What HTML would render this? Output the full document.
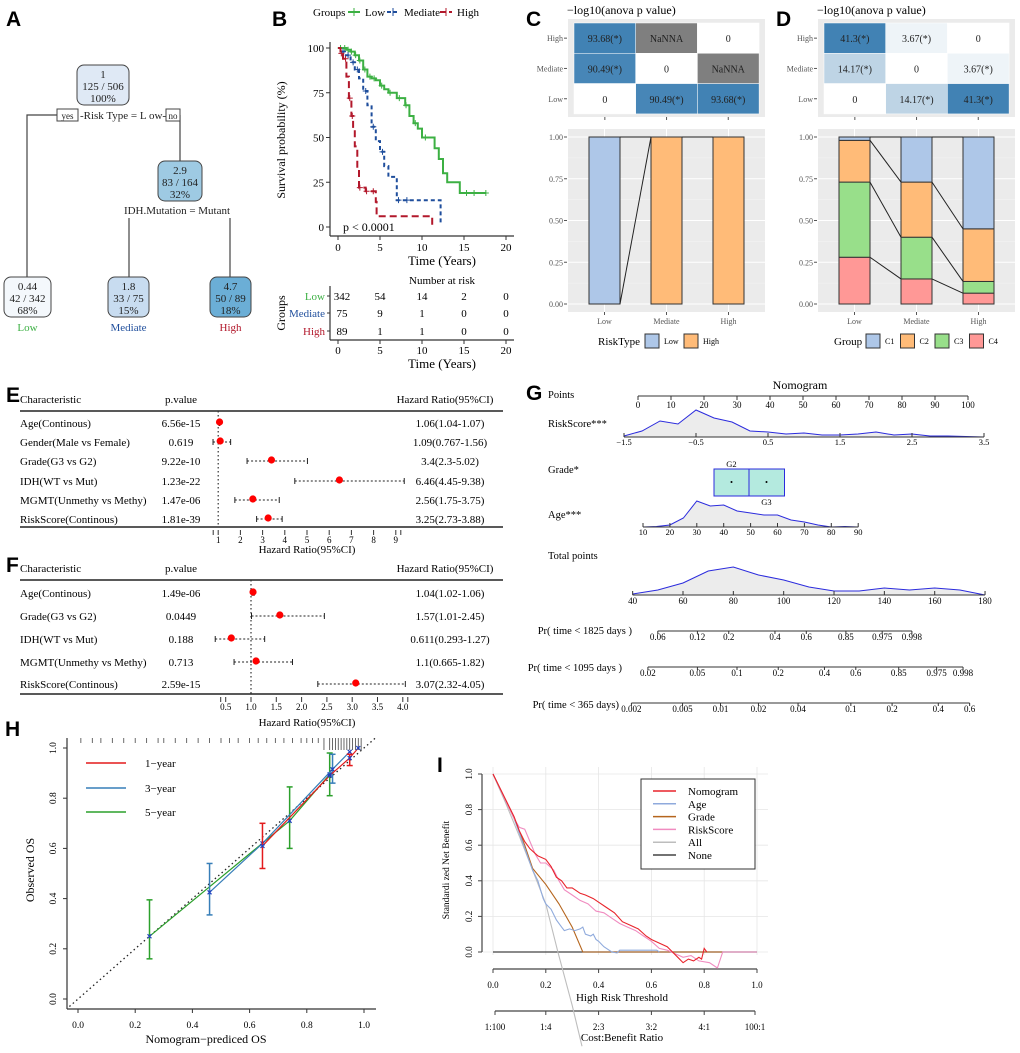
<!DOCTYPE html>
<html><head><meta charset="utf-8"><title>Risk model figure</title>
<style>
html,body{margin:0;padding:0;background:#fff;}
svg{display:block;font-family:"Liberation Serif",serif;}
.pl{font-family:"Liberation Sans",sans-serif;font-weight:bold;font-size:21px;}
</style></head>
<body>
<svg id="fig" width="1020" height="1053" viewBox="0 0 1020 1053" xmlns="http://www.w3.org/2000/svg">
<rect width="1020" height="1053" fill="#fff"/>
<text class="pl" x="6" y="26">A</text>
<text class="pl" x="272" y="26">B</text>
<text class="pl" x="526" y="26">C</text>
<text class="pl" x="776" y="26">D</text>
<text class="pl" x="6" y="402">E</text>
<text class="pl" x="6" y="572">F</text>
<text class="pl" x="526" y="400">G</text>
<text class="pl" x="5" y="736">H</text>
<text class="pl" x="437" y="772">I</text>

<!-- Panel A: decision tree -->
<g id="tree" font-size="11" fill="#222">
 <g stroke="#444" stroke-width="1.2" fill="none">
  <path d="M27 277 V115 H57"/><path d="M180 115 H180 V161"/>
  <path d="M129 277 V218"/><path d="M230 277 V218"/>
 </g>
 <rect x="77" y="65" width="52" height="40" rx="7" fill="#dfe9f5" stroke="#444"/>
 <text x="103" y="78" text-anchor="middle">1</text><text x="103" y="90" text-anchor="middle">125 / 506</text><text x="103" y="102" text-anchor="middle">100%</text>
 <rect x="57" y="109" width="21" height="12" fill="#fff" stroke="#444"/>
 <text x="67.5" y="119" text-anchor="middle" font-size="9">yes</text>
 <text x="123" y="119" text-anchor="middle" font-size="11">-Risk Type = L ow-</text>
 <rect x="166" y="109" width="14" height="12" fill="#fff" stroke="#444"/>
 <text x="173" y="119" text-anchor="middle" font-size="9">no</text>
 <rect x="158" y="161" width="44" height="40" rx="7" fill="#9ecae3" stroke="#444"/>
 <text x="180" y="174" text-anchor="middle">2.9</text><text x="180" y="186" text-anchor="middle">83 / 164</text><text x="180" y="198" text-anchor="middle">32%</text>
 <text x="177" y="214" text-anchor="middle">IDH.Mutation = Mutant</text>
 <rect x="4" y="277" width="47" height="40" rx="7" fill="#f4f8fc" stroke="#444"/>
 <text x="27.5" y="290" text-anchor="middle">0.44</text><text x="27.5" y="302" text-anchor="middle">42 / 342</text><text x="27.5" y="314" text-anchor="middle">68%</text>
 <text x="27.5" y="331" text-anchor="middle" fill="#3cb043">Low</text>
 <rect x="108" y="277" width="41" height="40" rx="7" fill="#c8dcf0" stroke="#444"/>
 <text x="128.5" y="290" text-anchor="middle">1.8</text><text x="128.5" y="302" text-anchor="middle">33 / 75</text><text x="128.5" y="314" text-anchor="middle">15%</text>
 <text x="128.5" y="331" text-anchor="middle" fill="#1f4e9c">Mediate</text>
 <rect x="210" y="277" width="41" height="40" rx="7" fill="#6baed6" stroke="#444"/>
 <text x="230.5" y="290" text-anchor="middle">4.7</text><text x="230.5" y="302" text-anchor="middle">50 / 89</text><text x="230.5" y="314" text-anchor="middle">18%</text>
 <text x="230.5" y="331" text-anchor="middle" fill="#b2182b">High</text>
</g>

<g id="km"></g>
<g id="heatC"></g>
<g id="heatD"></g>
<g id="forestE"></g>
<g id="forestF"></g>
<g id="nomo"></g>
<g id="calib"></g>
<g id="dca"></g>
</svg>
<script>
// ===== Data =====
// KM
const kmTicks=[0,5,10,15,20];
const kmYTicks=[0,25,50,75,100];
const lowT=[0,0.5,1,1.5,2,2.5,3,3.5,4,4.5,5,5.5,6,7,8,8.5,9,9.5,10,11,11.5,12,12.5,13,14,14.5,17.6];
const lowS=[100,100,99,98,96,93,88,84,83,82,79,77,75,72,68,62,58,55,50,50,44,38,30,25,25,19,19];
const medT=[0,0.3,0.8,1.5,2,2.5,3,3.5,4,4.5,5,5.5,6,7,12.2,12.21];
const medS=[100,98,96,92,88,83,76,68,56,48,42,34,28,15,15,2];
const highT=[0,0.3,0.6,1,1.3,1.6,1.8,2,2.3,2.5,3.3,4.3,4.5,4.6,11.2,11.21];
const highS=[100,97,94,84,72,62,55,45,33,22,20,20,14,6,6,1];
const lowCens=[0.3,0.8,1.2,1.6,2.1,2.6,3.2,3.8,4.3,5.2,6.2,7.3,8.1,9.2,10.4,15.3,16.2,17.6];
const medCens=[0.6,1.2,1.8,2.3,3.3,4.2,5.3,7.2,8.2];
const highCens=[0.4,0.9,1.4,1.7,2.6,3.4,4.2];
const riskGroups=["Low","Mediate","High"];
const riskLow=[342,54,14,2,0], riskMed=[75,9,1,0,0], riskHigh=[89,1,1,0,0];
// Heatmaps
const hmRows=["High","Mediate","Low"], hmCols=["Low","Mediate","High"];
const hmC=[[93.68,NaN,0],[90.49,0,NaN],[0,90.49,93.68]];
const hmD=[[41.3,3.67,0],[14.17,0,3.67],[0,14.17,41.3]];
const barTicks=[0,0.25,0.5,0.75,1];
const cHigh=[0,1,1], cLow=[1,0,0];
const dC4=[0.28,0.15,0.065], dC3=[0.45,0.25,0.07], dC2=[0.25,0.33,0.315], dC1=[0.02,0.27,0.55];
// Forest E
const eChar=["Age(Continous)","Gender(Male vs Female)","Grade(G3 vs G2)","IDH(WT vs Mut)","MGMT(Unmethy vs Methy)","RiskScore(Continous)"];
const eP=["6.56e-15","0.619","9.22e-10","1.23e-22","1.47e-06","1.81e-39"];
const eHR=[1.06,1.09,3.4,6.46,2.56,3.25], eLo=[1.04,0.767,2.3,4.45,1.75,2.73], eHi=[1.07,1.56,5.02,9.38,3.75,3.88];
const eTicks=[1,2,3,4,5,6,7,8,9];
// Forest F
const fChar=["Age(Continous)","Grade(G3 vs G2)","IDH(WT vs Mut)","MGMT(Unmethy vs Methy)","RiskScore(Continous)"];
const fP=["1.49e-06","0.0449","0.188","0.713","2.59e-15"];
const fHR=[1.04,1.57,0.611,1.1,3.07], fLo=[1.02,1.01,0.293,0.665,2.32], fHi=[1.06,2.45,1.27,1.82,4.05];
const fTicks=[0.5,1,1.5,2,2.5,3,3.5,4];
// Nomogram
const ptsTicks=[0,10,20,30,40,50,60,70,80,90,100];
const rsTicks=[-1.5,-0.5,0.5,1.5,2.5,3.5];
const rsDensX=[-1.5,-1.25,-1,-0.75,-0.5,-0.25,0,0.25,0.5,0.75,1,1.25,1.5,1.75,2,2.25,2.5,2.75,3,3.25,3.5];
const rsDens=[1,6,16,13,27,19,15,6,5,3,4,2,2,3,5,2,3,1,1,0.5,0];
const ageTicks=[10,20,30,40,50,60,70,80,90];
const ageDensX=[10,15,20,25,30,35,40,45,50,55,60,65,70,75,80,85,90];
const ageDens=[0,0.5,2,9,26,21,22,16,14,12,12,7,5,2,0,0.5,0];
const totTicks=[40,60,80,100,120,140,160,180];
const totDensX=[40,50,60,70,80,90,100,110,120,130,140,150,160,170,180];
const totDens=[1,5,12,24,28,20,15,8,4,4,7,5,7,5,0];
const pr1825=["0.06","0.12","0.2","0.4","0.6","0.85","0.975","0.998"];
const pr1825Pts=[6,18,27.5,41.5,51,63,74,83];
const pr1095=["0.02","0.05","0.1","0.2","0.4","0.6","0.85","0.975","0.998"];
const pr1095Pts=[3,18,30,42.5,56.5,66,79,90.5,98.5];
const pr365=["0.002","0.005","0.01","0.02","0.04","0.1","0.2","0.4","0.6"];
const pr365Pts=[-2,13.5,25,36.5,48.5,64.5,77,91,100.5];
// Calibration
const calTicks=[0,0.2,0.4,0.6,0.8,1.0];
const cal1x=[0.645,0.88,0.95,0.98], cal1y=[0.61,0.89,0.96,1.0], cal1lo=[0.52,0.89,0.93,1.0], cal1hi=[0.70,0.89,0.975,1.0];
const cal3x=[0.46,0.645,0.89,0.95], cal3y=[0.425,0.62,0.915,0.985], cal3lo=[0.335,0.62,0.86,0.985], cal3hi=[0.54,0.62,0.975,0.985];
const cal5x=[0.25,0.74,0.88], cal5y=[0.25,0.71,0.895], cal5lo=[0.16,0.60,0.81], cal5hi=[0.395,0.845,0.98];
const rug=[0.01,0.05,0.08,0.12,0.16,0.2,0.24,0.28,0.3,0.34,0.38,0.42,0.46,0.5,0.53,0.56,0.6,0.63,0.66,0.69,0.72,0.75,0.78,0.8,0.82,0.84,0.86,0.88,0.89,0.9,0.91,0.92,0.93,0.94,0.95,0.96,0.97,0.98,0.99];
// DCA
const dcaTicks=[0,0.2,0.4,0.6,0.8,1.0];
const cbLabels=["1:100","1:4","2:3","3:2","4:1","100:1"];
const allT=[0,0.05,0.1,0.15,0.2,0.246,0.3,0.337], allY=[1,0.83,0.65,0.46,0.27,0,-0.3,-0.53];
const gradeT=[0,0.08,0.12,0.15,0.2,0.25,0.3,0.34,1], gradeY=[1,0.75,0.6,0.47,0.38,0.27,0.14,0,0];
const ageT=[0,0.08,0.15,0.17,0.19,0.2,0.22,0.24,0.26,0.27,0.29,0.31,0.33,0.34,0.35,0.37,0.38,0.39,0.4,0.42,0.43,0.45,0.47,0.48,0.62,0.63];
const ageY=[1,0.75,0.46,0.4,0.3,0.27,0.24,0.18,0.14,0.12,0.13,0.12,0.13,0.14,0.1,0.09,0.1,0.07,0.06,0.03,0.02,0,-0.005,0.01,0.01,0];
const nomT=[0,0.08,0.1,0.12,0.14,0.17,0.2,0.22,0.24,0.26,0.28,0.3,0.33,0.35,0.38,0.4,0.43,0.46,0.49,0.52,0.55,0.58,0.6,0.63,0.66,0.68,0.7,0.72,0.74,0.76,0.78,0.79,0.8,0.81];
const nomY=[1,0.76,0.68,0.62,0.58,0.54,0.52,0.48,0.42,0.4,0.36,0.36,0.33,0.32,0.3,0.28,0.25,0.22,0.17,0.15,0.13,0.09,0.07,0.05,0.03,0,-0.03,-0.06,-0.04,-0.05,-0.03,-0.04,0.02,0];
const rskT=[0,0.08,0.1,0.12,0.14,0.16,0.18,0.2,0.23,0.25,0.27,0.3,0.33,0.36,0.39,0.42,0.45,0.48,0.51,0.54,0.57,0.6,0.63,0.66,0.69,0.72,0.75,0.78,0.82,0.85,0.87,1.0];
const rskY=[1,0.75,0.7,0.69,0.62,0.55,0.5,0.5,0.46,0.4,0.35,0.32,0.29,0.27,0.23,0.22,0.19,0.16,0.14,0.12,0.09,0.06,0.02,0.01,-0.01,-0.03,-0.02,-0.05,-0.06,-0.09,0,0];

// ===== Helpers =====
const NS="http://www.w3.org/2000/svg";
function mk(tag,a,p){const e=document.createElementNS(NS,tag);for(const k in a)e.setAttribute(k,a[k]);p.appendChild(e);return e;}
function tx(p,x,y,s,a){const e=mk('text',Object.assign({x:x,y:y},a||{}),p);e.textContent=s;return e;}
function line(p,x1,y1,x2,y2,st,w,extra){return mk('line',Object.assign({x1:x1,y1:y1,x2:x2,y2:y2,stroke:st||'#333','stroke-width':w||1},extra||{}),p);}
function poly(p,pts,st,w,extra){return mk('polyline',Object.assign({points:pts.map(q=>q[0].toFixed(1)+','+q[1].toFixed(1)).join(' '),fill:'none',stroke:st,'stroke-width':w||1},extra||{}),p);}

// ===== B: KM =====
(function(){
const g=document.getElementById('km');
const kx=t=>338+t*8.4, ky=s=>227-s*1.79;
let e;
e=tx(g,313,16,"Groups",{'font-size':11});


const lg=[["Low","#3cb043",348,"",365],["Mediate","#1f4e9c",387,"4,2",404],["High","#b2182b",440,"6,3",457]];
lg.forEach(l=>{
 const it=mk('g',{},g);
 
 
 line(it,l[2],12,l[2]+12,12,l[1],2,{'stroke-dasharray':l[3]});
 line(it,l[2]+6,8,l[2]+6,16,l[1],1);
 tx(it,l[4],16,l[0],{'font-size':11});
});
line(g,330,42,330,236,'#333',1.2);
line(g,330,236,514,236,'#333',1.2);
kmYTicks.forEach(v=>{line(g,326,ky(v),330,ky(v));tx(g,324,ky(v)+4,String(v),{'text-anchor':'end','font-size':11});});
kmTicks.forEach(v=>{line(g,kx(v),236,kx(v),240);tx(g,kx(v),251,String(v),{'text-anchor':'middle','font-size':11});});
e=tx(g,442,265,"Time (Years)",{'text-anchor':'middle','font-size':13});


e=tx(g,0,0,"Survival probability (%)",{'text-anchor':'middle','font-size':12,transform:'translate(285,140) rotate(-90)'});


function stepPath(T,S){let d='M'+kx(T[0])+' '+ky(S[0]);for(let i=1;i<T.length;i++){d+=' H'+kx(T[i]).toFixed(1)+' V'+ky(S[i]).toFixed(1);}return d;}
function survAt(T,S,t){let s=S[0];for(let i=0;i<T.length;i++){if(T[i]<=t)s=S[i];}return s;}
const series=[[lowT,lowS,lowCens,"#3cb043","","low"],[medT,medS,medCens,"#1f4e9c","4,3","mediate"],[highT,highS,highCens,"#b2182b","7,4","high"]];
series.forEach(sr=>{
 const p=mk('path',{d:stepPath(sr[0],sr[1]),fill:'none',stroke:sr[3],'stroke-width':2,'stroke-dasharray':sr[4]},g);
 
 
 sr[2].forEach(t=>{const y=ky(survAt(sr[0],sr[1],t));
  const c=mk('path',{d:`M${kx(t)-3} ${y}H${kx(t)+3}M${kx(t)} ${y-3}V${y+3}`,stroke:sr[3],'stroke-width':1,fill:'none'},g);
  
  
 });
});
e=tx(g,343,231,"p < 0.0001",{'font-size':12});


// risk table
e=tx(g,442,284,"Number at  risk",{'text-anchor':'middle','font-size':11});


line(g,330,286,330,340,'#333',1.2);line(g,330,340,514,340,'#333',1.2);
const rows=[riskLow,riskMed,riskHigh], cols=["#3cb043","#1f4e9c","#b2182b"], ry=[300,317,335];
rows.forEach((r,i)=>{
 tx(g,325,ry[i],riskGroups[i],{'text-anchor':'end','font-size':11,fill:cols[i]});
 line(g,327,ry[i]-4,330,ry[i]-4);
 r.forEach((n,j)=>{const c=tx(g,kx(kmTicks[j])+(j==0?4:0),ry[i],String(n),{'text-anchor':'middle','font-size':11});
  
  });
});
kmTicks.forEach(v=>{line(g,kx(v),340,kx(v),344);tx(g,kx(v),354,String(v),{'text-anchor':'middle','font-size':11});});
tx(g,442,368,"Time (Years)",{'text-anchor':'middle','font-size':13});
tx(g,0,0,"Groups",{'text-anchor':'middle','font-size':12,transform:'translate(285,313) rotate(-90)'});
})();

// ===== C & D =====
function heatPanel(gid,x0,title,M,scaleMax,stack,stackCols,legTitle,legNames,legX){
 const g=document.getElementById(gid);
 let e;
 e=tx(g,x0+37,14,title,{'font-size':12});
 
 
 mk('rect',{x:x0+38,y:19,width:197,height:98,fill:'#ebebeb'},g);
 const cx0=x0+44,cw=61.7,cy0=23,ch=30.3;
 M.forEach((row,i)=>{
  tx(g,x0+33,cy0+ch*i+ch/2+3,hmRows[i],{'text-anchor':'end','font-size':8,fill:'#555'});
  line(g,x0+34,cy0+ch*i+ch/2,x0+37,cy0+ch*i+ch/2,'#555');
  row.forEach((v,j)=>{
   let f;
   if(isNaN(v))f='#7f7f7f';else{const a=v/scaleMax;f=`rgb(${Math.round(255-a*190)},${Math.round(255-a*125)},${Math.round(255-a*75)})`;}
   const r=mk('rect',{x:cx0+cw*j,y:cy0+ch*i,width:cw,height:ch,fill:f,stroke:'#fff','stroke-width':0.5},g);
   
   
   const s=isNaN(v)?'NaNNA':(v===0?'0':v+'(*)');
   tx(g,cx0+cw*j+cw/2,cy0+ch*i+ch/2+4,s,{'text-anchor':'middle','font-size':10,fill:'#222'});
  });
 });
 [0,1,2].forEach(j=>line(g,cx0+cw*j+cw/2,117,cx0+cw*j+cw/2,120,'#555'));
 // bars
 mk('rect',{x:x0+38,y:129,width:197,height:183,fill:'#ebebeb'},g);
 const by=v=>304-v*167;
 barTicks.forEach(v=>{line(g,x0+38,by(v),x0+235,by(v),'#fff',1);
  tx(g,x0+33,by(v)+3,v.toFixed(2),{'text-anchor':'end','font-size':8,fill:'#555'});line(g,x0+34,by(v),x0+37,by(v),'#555');});
 [0.125,0.375,0.625,0.875].forEach(v=>line(g,x0+38,by(v),x0+235,by(v),'#f5f5f5',0.5));
 const bx=[x0+59,x0+121,x0+183], bw=31;
 bx.forEach(x=>line(g,x+bw/2,129,x+bw/2,312,'#fff',1));
 const cum=[0,0,0];
 const levels=[];
 stack.forEach((arr,k)=>{
  const lv=[];
  arr.forEach((v,j)=>{
   const r=mk('rect',{x:bx[j],y:by(cum[j]+v),width:bw,height:v*167,fill:stackCols[k],stroke:'#333','stroke-width':1},g);
   
   
   cum[j]+=v;lv.push(cum[j]);
  });
  levels.push(lv);
 });
 levels.forEach(lv=>{for(let j=0;j<2;j++){line(g,bx[j]+bw,by(lv[j]),bx[j+1],by(lv[j+1]),'#222',1);}});
 hmCols.forEach((c,j)=>{line(g,bx[j]+bw/2,312,bx[j]+bw/2,315,'#555');tx(g,bx[j]+bw/2,324,c,{'text-anchor':'middle','font-size':8,fill:'#555'});});
 tx(g,legX[0],345,legTitle,{'font-size':11});
 legNames.forEach((n,k)=>{
  const lgi=mk('g',{},g);
  
  
  mk('rect',{x:legX[1]+k*legX[2],y:334,width:14,height:14,fill:stackCols[stackCols.length-1-k-(legX[3]||0)],stroke:'#333'},lgi);
  tx(lgi,legX[1]+k*legX[2]+19,344,n,{'font-size':8});
 });
}
heatPanel('heatC',530,"\u2212log10(anova p value)",hmC,93.68,[cHigh,cLow],['#ffbb78','#aec7e8'],"RiskType",["Low","High"],[598,645,39]);
heatPanel('heatD',780,"\u2212log10(anova p value)",hmD,41.3,[dC4,dC3,dC2,dC1],['#ff9896','#98df8a','#ffbb78','#aec7e8'],"Group",["C1","C2","C3","C4"],[834,866,34.5]);

// ===== Forest plots =====
function forest(gid,top,rowsY,chars,ps,hr,lo,hi,ticks,x0,scale,bottom,labY){
 const g=document.getElementById(gid);
 const X=v=>x0+v*scale;
 tx(g,20,top,"Characteristic",{'font-size':11});
 tx(g,181,top,"p.value",{'font-size':11,'text-anchor':'middle'});
 tx(g,445,top,"Hazard Ratio(95%CI)",{'font-size':11,'text-anchor':'middle'});
 line(g,20,top+8,503,top+8,'#222',1.5);
 line(g,20,bottom,503,bottom,'#222',1.5);
 line(g,X(1),top+8,X(1),bottom,'#333',1.2,{'stroke-dasharray':'1.5,2.5'});
 chars.forEach((c,i)=>{
  const y=rowsY[i];
  tx(g,20,y+4,c,{'font-size':11});
  tx(g,181,y+4,ps[i],{'font-size':11,'text-anchor':'middle'});
  tx(g,450,y+4,`${hr[i]}(${lo[i]}-${hi[i]})`,{'font-size':11,'text-anchor':'middle'});
  const ci=line(g,X(lo[i]),y,X(hi[i]),y,'#222',1,{'stroke-dasharray':'2,2'});
  
  
  line(g,X(lo[i]),y-3,X(lo[i]),y+3,'#222',1);line(g,X(hi[i]),y-3,X(hi[i]),y+3,'#222',1);
  const d=mk('circle',{cx:X(hr[i]),cy:y-1,r:3.6,fill:'#f00'},g);
  
  
 });
 ticks.forEach(v=>{line(g,X(v),bottom+3,X(v),bottom+8,'#333');tx(g,X(v),bottom+16,String(v%1===0&&v<5&&ticks.includes(0.5)?v.toFixed(1):v),{'text-anchor':'middle','font-size':9});});
 line(g,X(ticks[0])-5,bottom+3,X(ticks[0])-5,bottom+8,'#333');
 line(g,X(ticks[ticks.length-1])+5,bottom+3,X(ticks[ticks.length-1])+5,bottom+8,'#333');
 tx(g,307,labY,"Hazard Ratio(95%CI)",{'text-anchor':'middle','font-size':11});
}
forest('forestE',403,[423,442,461,481,500,519],eChar,eP,eHR,eLo,eHi,eTicks,196,22.2,527,553);
forest('forestF',572,[593,616,639,662,684],fChar,fP,fHR,fLo,fHi,fTicks,200.4,50.6,694,726);

// ===== G: Nomogram =====
(function(){
 const g=document.getElementById('nomo');
 const P=v=>638+v*3.3;
 let e;
 e=tx(g,800,389,"Nomogram",{'text-anchor':'middle','font-size':12});
 
 
 const labs=[["Points",548,398],["RiskScore***",548,427],["Grade*",548,473],["Age***",548,518],["Total points",548,559],
  ["Pr( time < 1825 days )",632,634],["Pr( time < 1095 days )",622,671],["Pr( time < 365 days)",619,708]];
 labs.forEach(l=>{const t=tx(g,l[1],l[2],l[0],{'font-size':10.5,'text-anchor':l[1]>600?'end':'start'});
  
  });
 function axis(y,x1,x2,ticks,fx,labels,lab){
  line(g,x1,y,x2,y,'#333',1);
  ticks.forEach((v,i)=>{line(g,fx(v),y,fx(v),y+(lab?4:-3),'#333');tx(g,fx(v),y+(lab?12:9),labels?labels[i]:String(v),{'text-anchor':'middle','font-size':9});});
 }
 axis(396,P(0),P(100),ptsTicks,P,null,true);
 const R=v=>696+(v+0.5)*72;
 function dens(xs,hs,fx,y){
  const pts=xs.map((x,i)=>[fx(x),y-hs[i]]);
  mk('polygon',{points:[[fx(xs[0]),y]].concat(pts).concat([[fx(xs[xs.length-1]),y]]).map(q=>q.join(',')).join(' '),fill:'#ececec'},g);
  const pl=poly(g,pts,'#2b2bdd',1);
  
  
 }
 dens(rsDensX,rsDens,R,437);
 line(g,R(-1.5),437,R(3.5),437,'#333');
 rsTicks.forEach(v=>{line(g,R(v),437,R(v),433);tx(g,R(v),445,String(v).replace('-','\u2212'),{'text-anchor':'middle','font-size':8.5});});
 const gb=[["G2",714],["G3",749]];
 gb.forEach((b,i)=>{const r=mk('rect',{x:b[1],y:469,width:35.5,height:27,fill:'#b4eadf',stroke:'#2b2bdd','stroke-width':1},g);
  
  
  mk('circle',{cx:b[1]+17.5,cy:482,r:1,fill:'#000'},g);
  tx(g,b[1]+17.5,i==0?467:505,b[0],{'text-anchor':'middle','font-size':8.5});});
 const A=v=>643+(v-10)*2.69;
 dens(ageDensX,ageDens,A,527);
 line(g,A(10),527,A(90),527,'#333');
 ageTicks.forEach(v=>{line(g,A(v),527,A(v),523);tx(g,A(v),535,String(v),{'text-anchor':'middle','font-size':8.5});});
 const T=v=>683+(v-60)*2.517;
 dens(totDensX,totDens,T,595);
 line(g,T(40),595,T(180),595,'#333');
 totTicks.forEach(v=>{line(g,T(v),595,T(v),591);tx(g,T(v),604,String(v),{'text-anchor':'middle','font-size':9});});
 function prAxis(y,labels,pts){
  const xs=pts.map(P);
  line(g,xs[0],y,xs[xs.length-1],y,'#333');
  xs.forEach((x,i)=>{line(g,x,y,x,y+3,'#333');tx(g,x,y+9,labels[i],{'text-anchor':'middle','font-size':9});});
 }
 prAxis(631,pr1825,pr1825Pts);
 prAxis(667,pr1095,pr1095Pts);
 prAxis(703,pr365,pr365Pts);
})();

// ===== H: calibration =====
(function(){
 const g=document.getElementById('calib');
 const X=v=>78+v*286, Y=v=>999-v*251;
 line(g,67,738,67,1009,'#333',1.2);line(g,67,1009,376,1009,'#333',1.2);
 calTicks.forEach(v=>{line(g,X(v),1009,X(v),1013);tx(g,X(v),1028,v.toFixed(1),{'text-anchor':'middle','font-size':9.5});
  line(g,63,Y(v),67,Y(v));tx(g,0,0,v.toFixed(1),{'text-anchor':'middle','font-size':9.5,transform:`translate(56,${Y(v)}) rotate(-90)`});});
 tx(g,206,1043,"Nomogram\u2212prediced OS",{'text-anchor':'middle','font-size':12});
 tx(g,0,0,"Observed OS",{'text-anchor':'middle','font-size':12,transform:'translate(34,870) rotate(-90)'});
 line(g,X(-0.03),Y(-0.03),X(1.04),Y(1.04),'#222',1.3,{'stroke-dasharray':'1.5,3'});
 rug.forEach((v,i)=>{const r=line(g,X(v),738,X(v),740+(v>0.85?10:3),'#444',0.8);
  
  });
 const sets=[[cal5x,cal5y,cal5lo,cal5hi,'#2ca02c','5-year'],[cal3x,cal3y,cal3lo,cal3hi,'#377eb8','3-year'],[cal1x,cal1y,cal1lo,cal1hi,'#e31a1c','1-year']];
 sets.forEach(s=>{
  const pl=poly(g,s[0].map((x,i)=>[X(x),Y(s[1][i])]),s[4],1.2);
  
  
  s[0].forEach((x,i)=>{
   if(s[3][i]-s[2][i]>0.001){line(g,X(x),Y(s[2][i]),X(x),Y(s[3][i]),s[4],1.5);
    line(g,X(x)-3,Y(s[2][i]),X(x)+3,Y(s[2][i]),s[4],1.5);line(g,X(x)-3,Y(s[3][i]),X(x)+3,Y(s[3][i]),s[4],1.5);}
   const m=mk('path',{d:`M${X(x)-2} ${Y(s[1][i])-2}L${X(x)+2} ${Y(s[1][i])+2}M${X(x)+2} ${Y(s[1][i])-2}L${X(x)-2} ${Y(s[1][i])+2}`,stroke:'#1f3fbf','stroke-width':1.2},g);
   
   
  });
 });
 const leg=[["1\u2212year",'#e31a1c',763],["3\u2212year",'#377eb8',788],["5\u2212year",'#2ca02c',812]];
 leg.forEach(l=>{const lg=mk('g',{},g);
  
  
  line(lg,86,l[2],126,l[2],l[1],1.5);tx(lg,145,l[2]+4,l[0],{'font-size':11});});
})();

// ===== I: decision curve =====
(function(){
 const g=document.getElementById('dca');
 const X=v=>493+v*264, Y=v=>952-v*178;
 dcaTicks.forEach(v=>{line(g,X(v),767,X(v),955,'#e6e6e6',0.8);line(g,483,Y(v),768,Y(v),'#e6e6e6',0.8);});
 line(g,482,Y(1),482,Y(0),'#444',1.2);
 dcaTicks.forEach(v=>{line(g,478,Y(v),482,Y(v),'#444');tx(g,0,0,v.toFixed(1),{'text-anchor':'middle','font-size':9,transform:`translate(472,${Y(v)}) rotate(-90)`});});
 tx(g,0,0,"Standardi zed Net Benefit",{'text-anchor':'middle','font-size':9.5,transform:'translate(449,870) rotate(-90)'});
 line(g,X(0),969,X(1),969,'#444',1.2);
 dcaTicks.forEach(v=>{line(g,X(v),969,X(v),973,'#444');tx(g,X(v),988,v.toFixed(1),{'text-anchor':'middle','font-size':9});});
 tx(g,622,1001,"High Risk Threshold",{'text-anchor':'middle','font-size':11});
 line(g,X(0)+2,1011,X(1)-2,1011,'#444',1.2);
 cbLabels.forEach((c,i)=>{const x=X(dcaTicks[i])+(i==0?2:i==5?-2:0);line(g,x,1011,x,1015,'#444');tx(g,x,1030,c,{'text-anchor':'middle','font-size':9});});
 tx(g,622,1041,"Cost:Benefit Ratio",{'text-anchor':'middle','font-size':11});
 line(g,X(0),Y(0),X(1),Y(0),'#444',1.3);
 const curves=[[allT,allY,'#bdbdbd','all'],[gradeT,gradeY,'#b5651d','grade'],[ageT,ageY,'#8faadc','age'],[rskT,rskY,'#f08cc0','riskscore'],[nomT,nomY,'#e8242b','nomogram']];
 curves.forEach(c=>{const pl=poly(g,c[0].map((t,i)=>[X(t),Y(c[1][i])]),c[2],1.1);
  
  });
 const lb=mk('rect',{x:641,y:779,width:114,height:90,fill:'#fff',stroke:'#333','stroke-width':1},g);
 
 
 const le=[["Nomogram",'#e8242b'],["Age",'#8faadc'],["Grade",'#b5651d'],["RiskScore",'#f08cc0'],["All",'#bdbdbd'],["None",'#444']];
 le.forEach((l,i)=>{const y=791+i*12.8;const it=mk('g',{},g);
  
  
  line(it,653,y,676,y,l[1],1.5);tx(it,688,y+4,l[0],{'font-size':11});});
})();
</script>
</body></html>
